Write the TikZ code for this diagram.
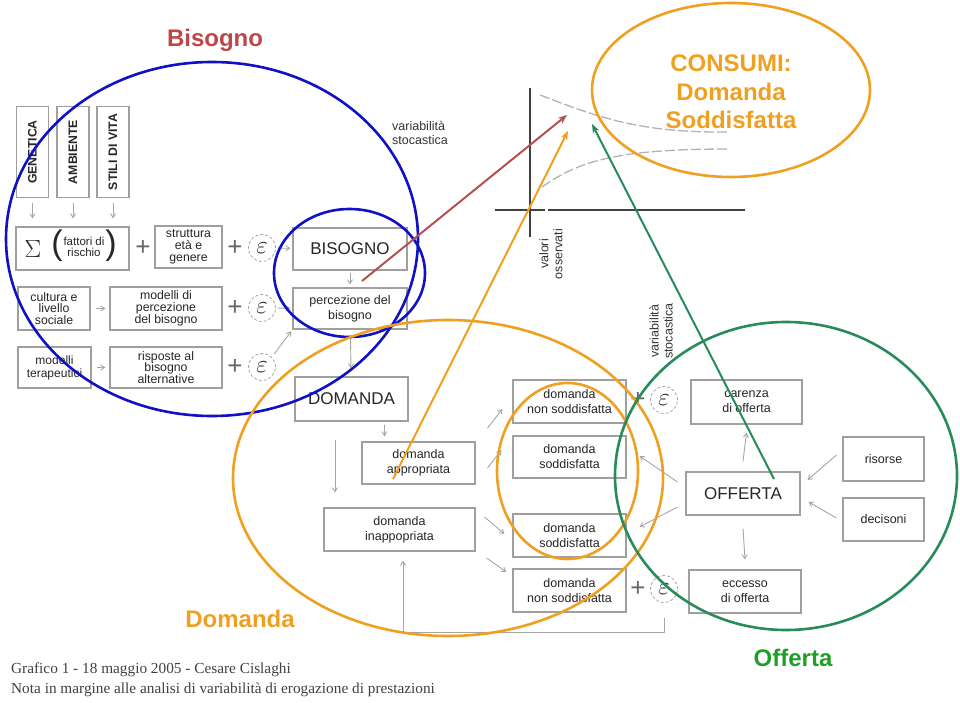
\documentclass[tikz,border=0pt]{standalone}
\usepackage{fontspec}
\setmainfont{Liberation Sans}
\newfontfamily\footserif{Liberation Serif}
\usetikzlibrary{calc,arrows.meta}
\definecolor{ovblue}{RGB}{16,16,196}
\definecolor{ovorange}{RGB}{240,160,32}
\definecolor{ovgreen}{RGB}{40,140,90}
\definecolor{txgreen}{RGB}{30,160,40}
\definecolor{ovred}{RGB}{180,80,80}
\definecolor{txred}{RGB}{190,70,70}
\begin{document}
\begin{tikzpicture}[x=1pt,y=-1pt,
  box/.style={draw=gray!75, line width=1.1pt, fill=white, align=center, text=black!85,
    font=\fontsize{12.5}{15}\selectfont, inner sep=1pt},
  box3/.style={box, font=\fontsize{12.3}{11.8}\selectfont},
  vbox/.style={box, minimum width=32, minimum height=91},
  vtext/.style={rotate=90, font=\bfseries\fontsize{12.3}{12.3}\selectfont, text=black!85},
  bigbox/.style={box, font=\fontsize{17}{19}\selectfont},
  epsn/.style={circle, draw=gray!70, densely dashed, line width=0.8pt, minimum size=27,
    inner sep=0pt, font=\fontsize{24}{24}\selectfont, text=black!85},
  plusn/.style={text=gray!80!black, font=\fontsize{26}{26}\selectfont, inner sep=0pt},
  arr/.style={-{Straight Barb[length=4pt,width=5pt]}, draw=gray!70, line width=0.9pt},
  axis/.style={draw=black!75, line width=2.2pt},
  curve/.style={draw=gray!60, line width=1.3pt, dash pattern=on 10pt off 3pt},
  note/.style={font=\fontsize{12.5}{14}\selectfont, text=black!80, align=left, inner sep=0pt},
  ovl/.style={line width=2.6pt},
  ovarr/.style={line width=2pt, -{Stealth[length=9pt,width=7pt]}},
  title/.style={font=\bfseries\fontsize{24}{28.5}\selectfont, align=center, inner sep=0pt}
]
\useasboundingbox (0,0) rectangle (960,703);

% ---------- left part ----------
\node[vbox] (gen) at (32.5,152) {};
\node[vtext] at (gen) {GENETICA};
\node[vbox] (amb) at (73,152) {};
\node[vtext] at (amb) {AMBIENTE};
\node[vbox] (sti) at (113,152) {};
\node[vtext] at (sti) {STILI DI VITA};

\node[box, minimum width=113, minimum height=43] (sum) at (72.5,248.5) {};
\node[inner sep=0pt, text=black!85, font=\fontsize{36}{36}\selectfont] (sig) at (33,249) {$\Sigma$};
\node[inner sep=0pt, text=black!85, font=\fontsize{34}{34}\selectfont] (lp) at (57,246) {(};
\node[inner sep=0pt, align=center, text=black!85, font=\fontsize{11.5}{11.5}\selectfont] (fr) at (84,247) {fattori di\\rischio};
\node[inner sep=0pt, text=black!85, font=\fontsize{34}{34}\selectfont] (rp) at (111,246) {)};

\node[plusn] (p1) at (143,248) {+};
\node[box3, minimum width=67, minimum height=42] (str) at (188.5,247) {struttura\\età e\\genere};
\node[plusn] (p2) at (235,248) {+};
\node[epsn] (e1) at (262,248) {$\varepsilon$};
\node[bigbox, minimum width=114, minimum height=42] (bis) at (350,249) {BISOGNO};

\node[box3, minimum width=72, minimum height=43] (cul) at (54,308.5) {cultura e\\livello\\sociale};
\node[box3, minimum width=112, minimum height=43] (mod) at (166,308.5) {modelli di\\percezione\\del bisogno};
\node[plusn] (p3) at (235,308) {+};
\node[epsn] (e2) at (262,308) {$\varepsilon$};
\node[box, minimum width=114, minimum height=41] (per) at (350,308.5) {percezione del\\bisogno};

\node[box, minimum width=73, minimum height=41, font=\fontsize{12}{13}\selectfont] (mte) at (54.5,367.5) {modelli\\terapeutici};
\node[box3, minimum width=112, minimum height=41] (ris) at (166,367.5) {risposte al\\bisogno\\alternative};
\node[plusn] (p4) at (235,367) {+};
\node[epsn] (e3) at (262,367) {$\varepsilon$};

\draw[arr, shorten <=5pt, shorten >=8pt] (gen.south) -- (gen.south |- sum.north);
\draw[arr, shorten <=5pt, shorten >=8pt] (amb.south) -- (amb.south |- sum.north);
\draw[arr, shorten <=5pt, shorten >=8pt] (sti.south) -- (sti.south |- sum.north);
\draw[arr, shorten <=2pt, shorten >=2pt] (e1) -- (bis);
\draw[arr, shorten <=2pt, shorten >=2pt] (e2) -- (per);
\draw[arr, shorten <=5pt, shorten >=4pt] (cul) -- (mod);
\draw[arr, shorten <=5pt, shorten >=4pt] (mte) -- (ris);
\draw[arr, shorten <=4pt, shorten >=2pt] (e3.north east) -- (per.south west);
\draw[arr, shorten <=2pt, shorten >=3pt] (bis) -- (per);

% ---------- middle ----------
\node[bigbox, minimum width=113, minimum height=44] (dom) at (351.5,399) {DOMANDA};
\node[box, minimum width=113, minimum height=42] (app) at (418.5,463) {domanda\\appropriata};
\node[box, minimum width=151, minimum height=43] (ina) at (399.5,529.5) {domanda\\inappopriata};
\draw[arr, shorten <=6pt, shorten >=8pt] (per) -- (dom);
\draw[arr, shorten <=3pt, shorten >=5pt] ([xshift=33]dom.south) -- ([xshift=33]dom.south |- app.north);
\draw[arr, shorten <=18pt, shorten >=15pt] ([xshift=-16.5]dom.south) -- ([xshift=-16.5]dom.south |- ina.north);

\node[box, minimum width=113, minimum height=43] (ns1) at (569.5,401.5) {domanda\\non soddisfatta};
\node[box, minimum width=113, minimum height=42] (so1) at (569.5,457) {domanda\\soddisfatta};
\node[box, minimum width=113, minimum height=43] (so2) at (569.5,535.5) {domanda\\soddisfatta};
\node[box, minimum width=113, minimum height=43] (ns2) at (569.5,590.5) {domanda\\non soddisfatta};
\node[plusn] (p5) at (638,400) {+};
\node[epsn] (e4) at (664,400) {$\varepsilon$};
\node[plusn] (p6) at (638,589) {+};
\node[epsn] (e5) at (664,589) {$\varepsilon$};

\draw[arr] ($(app.east)+(12,-35)$) -- ($(ns1.west)+(-10,7.5)$);
\draw[arr] ($(app.east)+(12,5)$) -- ($(so1.west)+(-11,-7)$);
\draw[arr] ($(ina.east)+(9,-12.5)$) -- ($(so2.west)+(-8,-1.5)$);
\draw[arr] ($(ina.east)+(11,28.5)$) -- ($(ns2.west)+(-6,-18.5)$);
\draw[arr] ($(e5.south)+(0,15)$) -- ++(0,15) -| ($(ina.south)+(3.5,9)$);

% ---------- right ----------
\node[box, minimum width=111, minimum height=44] (car) at (746.5,402) {carenza\\di offerta};
\node[bigbox, minimum width=114, minimum height=43] (off) at (743,493.5) {OFFERTA};
\node[box, minimum width=81, minimum height=44] (rso) at (883.5,459) {risorse};
\node[box, minimum width=81, minimum height=43] (dec) at (883.5,519.5) {decisoni};
\node[box, minimum width=112, minimum height=43] (ecc) at (745,591.5) {eccesso\\di offerta};

\draw[arr] ($(off.north)+(0,-10)$) -- ($(car.south)+(0,8)$);
\draw[arr] ($(off.south)+(0,13)$) -- ($(ecc.north)+(0,-10)$);
\draw[arr] ($(rso.west)+(-6,-4)$) -- ($(off.east)+(7,-13.5)$);
\draw[arr] ($(dec.west)+(-6,-1.5)$) -- ($(off.east)+(8,8.5)$);
\draw[arr] ($(off.west)+(-8,-11.5)$) -- ($(so1.east)+(13,-1)$);
\draw[arr] ($(off.west)+(-8,13.5)$) -- ($(so2.east)+(13,-8.5)$);

\node[note, rotate=90, align=center] (vs2) at (661,331) {variabilità\\stocastica};

% ---------- graph ----------
\node[note] (vs1) at (392,133) [anchor=west] {variabilità\\stocastica};
\coordinate (ya) at (530,88);
\coordinate (yb) at (530,237);
\coordinate (xa) at (495,210);
\coordinate (xg) at (545,210);
\coordinate (xh) at (548,210);
\coordinate (xb) at (745,210);
\draw[axis] (ya) -- (yb);
\draw[axis] (xa) -- (xg);
\draw[axis] (xh) -- (xb);
\coordinate (c1a) at (540,95);
\coordinate (c1b) at (730,132);
\coordinate (c2a) at (542,187);
\coordinate (c2b) at (730,149);
\draw[curve] (c1a) .. controls (600,118) and (640,133) .. (c1b);
\draw[curve] (c2a) .. controls (580,160) and (620,149) .. (c2b);
\node[note, rotate=90, align=center] (vo) at (551,254) {valori\\osservati};

% ---------- footer ----------
\node[anchor=west, inner sep=0pt, text=black!75, font=\footserif\fontsize{15.3}{17}\selectfont] (f1) at (11,670) {Grafico 1 - 18 maggio 2005 - Cesare Cislaghi};
\node[anchor=west, inner sep=0pt, text=black!75, font=\footserif\fontsize{15.3}{17}\selectfont] (f2) at (11,690) {Nota in margine alle analisi di variabilità di erogazione di prestazioni};

% ---------- overlays ----------
\draw[ovl, ovblue] (212,239) ellipse [x radius=206, y radius=177];
\draw[ovl, ovblue] (349.5,273) ellipse [x radius=75.5, y radius=64];
\draw[ovl, ovorange] (448,478) ellipse [x radius=215, y radius=158];
\draw[ovl, ovorange] (567.5,471) ellipse [x radius=70.5, y radius=88];
\draw[ovl, ovgreen] (786,476) ellipse [x radius=171, y radius=154];
\draw[ovl, ovorange] (731,90) ellipse [x radius=139, y radius=87];

\coordinate (rs) at (362,281);
\coordinate (rt) at (567,115);
\coordinate (os) at (393,479);
\coordinate (ot) at (568,131);
\coordinate (gs) at (774,479);
\coordinate (gt) at (592,124);
\draw[ovarr, ovred] (rs) -- (rt);
\draw[ovarr, ovorange] (os) -- (ot);
\draw[ovarr, ovgreen] (gs) -- (gt);

\node[title, text=txred] (tb) at (215,40) {Bisogno};
\node[title, text=ovorange] (tc) at (731,92) {CONSUMI:\\Domanda\\Soddisfatta};
\node[title, text=ovorange] (td) at (240,619) {Domanda};
\node[title, text=txgreen] (to) at (793,658) {Offerta};
\end{tikzpicture}
\end{document}
